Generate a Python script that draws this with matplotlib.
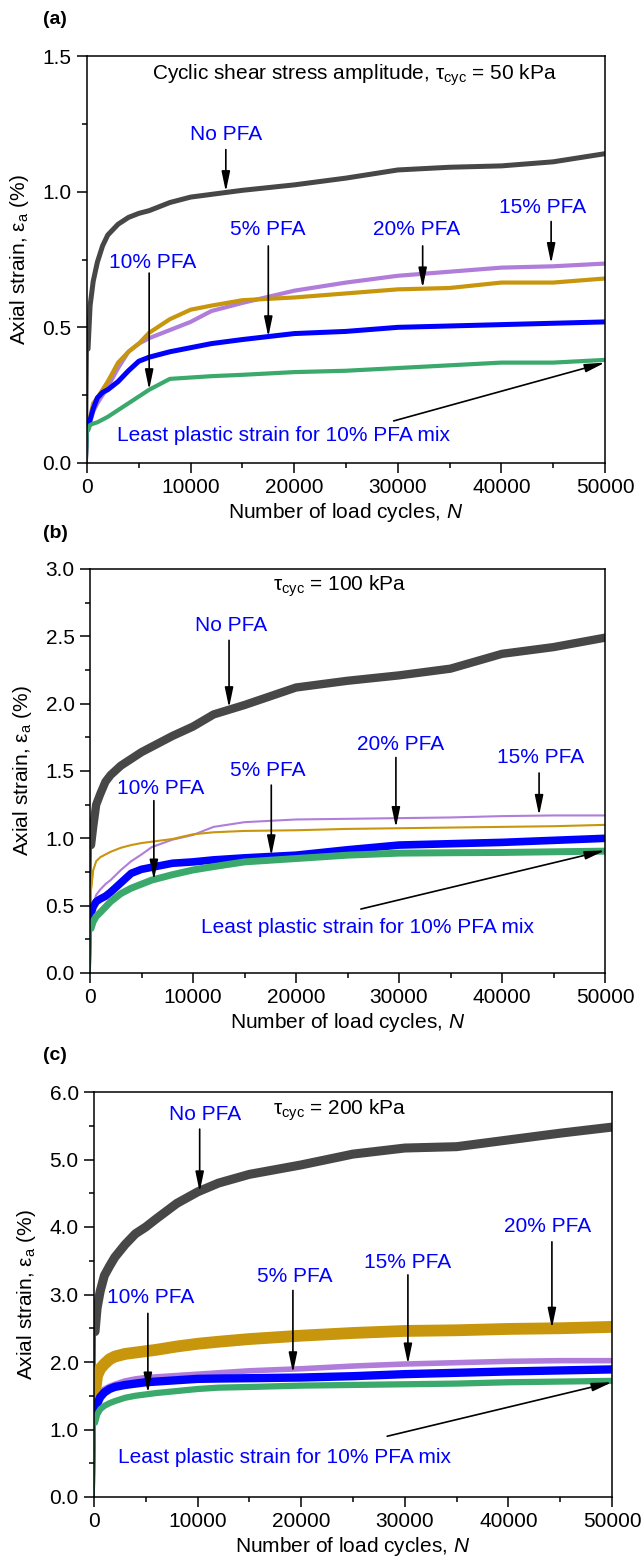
import numpy as np
import matplotlib
matplotlib.use('Agg')
import matplotlib.pyplot as plt
from matplotlib.ticker import MultipleLocator, FormatStrFormatter

plt.rcParams['font.family'] = ['Liberation Sans', 'DejaVu Sans']
plt.rcParams['mathtext.fontset'] = 'custom'
plt.rcParams['mathtext.rm'] = 'Liberation Sans'
plt.rcParams['mathtext.it'] = 'Liberation Sans:italic'
plt.rcParams['mathtext.bf'] = 'Liberation Sans:bold'

# load cycles at which strains were read
N = [0, 100, 300, 600, 1000, 1500, 2000, 3000, 4000, 5000, 6000, 8000,
     10000, 12000, 15000, 20000, 25000, 30000, 35000, 40000, 45000, 50000]

# (a) tau_cyc = 50 kPa, axial strain (%)
a_nopfa = [0, 0.42, 0.58, 0.67, 0.74, 0.80, 0.84, 0.88, 0.905, 0.92, 0.93, 0.96,
           0.98, 0.99, 1.005, 1.025, 1.05, 1.08, 1.09, 1.095, 1.11, 1.14]
a_15 = [0, 0.12, 0.15, 0.19, 0.22, 0.25, 0.28, 0.35, 0.41, 0.44, 0.46, 0.49,
        0.52, 0.56, 0.59, 0.635, 0.665, 0.69, 0.705, 0.72, 0.725, 0.735]
a_20 = [0, 0.13, 0.17, 0.22, 0.24, 0.27, 0.30, 0.37, 0.41, 0.44, 0.48, 0.53,
        0.565, 0.58, 0.60, 0.61, 0.625, 0.64, 0.645, 0.665, 0.665, 0.68]
a_5 = [0, 0.13, 0.16, 0.20, 0.24, 0.26, 0.27, 0.30, 0.34, 0.375, 0.39, 0.41,
       0.425, 0.44, 0.455, 0.477, 0.485, 0.50, 0.505, 0.51, 0.515, 0.52]
a_10 = [0, 0.12, 0.14, 0.145, 0.15, 0.16, 0.17, 0.195, 0.22, 0.245, 0.27, 0.31,
        0.315, 0.32, 0.325, 0.335, 0.34, 0.35, 0.36, 0.37, 0.37, 0.38]

# (b) tau_cyc = 100 kPa
b_nopfa = [0, 0.95, 1.08, 1.25, 1.33, 1.42, 1.47, 1.54, 1.59, 1.64, 1.68, 1.76,
           1.83, 1.92, 1.99, 2.12, 2.17, 2.21, 2.26, 2.37, 2.42, 2.49]
b_15 = [0, 0.42, 0.50, 0.58, 0.62, 0.66, 0.69, 0.765, 0.83, 0.88, 0.935, 0.99,
        1.025, 1.085, 1.12, 1.14, 1.145, 1.15, 1.155, 1.165, 1.17, 1.17]
b_20 = [0, 0.62, 0.76, 0.83, 0.86, 0.88, 0.90, 0.93, 0.95, 0.965, 0.975, 0.995,
        1.03, 1.045, 1.055, 1.06, 1.07, 1.075, 1.08, 1.085, 1.09, 1.10]
b_5 = [0, 0.44, 0.49, 0.53, 0.55, 0.57, 0.60, 0.67, 0.74, 0.77, 0.785, 0.815,
       0.825, 0.84, 0.855, 0.875, 0.915, 0.95, 0.96, 0.97, 0.985, 1.00]
b_10 = [0, 0.33, 0.38, 0.42, 0.45, 0.49, 0.53, 0.59, 0.63, 0.66, 0.69, 0.73,
        0.765, 0.79, 0.825, 0.85, 0.875, 0.89, 0.893, 0.895, 0.90, 0.905]

# (c) tau_cyc = 200 kPa
c_nopfa = [0, 2.45, 2.80, 3.05, 3.28, 3.42, 3.55, 3.74, 3.90, 4.00, 4.12, 4.35,
           4.52, 4.65, 4.78, 4.92, 5.08, 5.17, 5.19, 5.29, 5.39, 5.48]
c_15 = [0, 1.30, 1.47, 1.55, 1.60, 1.64, 1.67, 1.72, 1.75, 1.77, 1.78, 1.80,
        1.82, 1.84, 1.87, 1.90, 1.94, 1.97, 1.99, 2.01, 2.02, 2.02]
c_20 = [0, 1.55, 1.80, 1.90, 1.97, 2.04, 2.08, 2.12, 2.14, 2.16, 2.18, 2.23,
        2.27, 2.30, 2.34, 2.39, 2.43, 2.46, 2.47, 2.49, 2.50, 2.52]
c_5 = [0, 1.22, 1.38, 1.48, 1.55, 1.60, 1.63, 1.66, 1.68, 1.70, 1.71, 1.73,
       1.75, 1.755, 1.76, 1.77, 1.79, 1.82, 1.84, 1.86, 1.875, 1.89]
c_10 = [0, 1.10, 1.22, 1.30, 1.35, 1.39, 1.42, 1.47, 1.50, 1.52, 1.54, 1.57,
        1.60, 1.62, 1.63, 1.65, 1.66, 1.67, 1.68, 1.70, 1.71, 1.72]

mixes = ['No PFA', '15% PFA', '20% PFA', '5% PFA', '10% PFA']
colors = ['#474747', '#b07ddb', '#c8960c', '#0000ff', '#3aa96b']
note = 'Least plastic strain for 10% PFA mix'

W, H = 643, 1566
FS = 15
fig = plt.figure(figsize=(W / 100, H / 100), dpi=100)

# per panel: series, line widths, y-limit, major/minor y step, axes box (px),
# stress label, labels (x, y), arrows (x0, y0, x1, y1), note text/arrow
panels = [
    dict(tag='(a)', data=[a_nopfa, a_15, a_20, a_5, a_10],
         lw=[3.6, 3.0, 3.0, 3.6, 3.0], ymax=1.5, major=0.5, minor=0.25,
         box=(87, 56, 605, 463),
         stress=('Cyclic shear stress amplitude, τ$_{\\rm cyc}$ = 50 kPa', 25800, 1.43),
         labels=[(13400, 1.21), (44000, 0.94), (31800, 0.86), (17400, 0.86), (6300, 0.74)],
         arrows=[(13400, 1.155, 13400, 1.0), (44800, 0.89, 44800, 0.735),
                 (32400, 0.80, 32400, 0.645), (17500, 0.80, 17500, 0.465),
                 (6000, 0.70, 6000, 0.27)],
         note=(19000, 0.10), note_arrow=(29600, 0.155, 50000, 0.37)),
    dict(tag='(b)', data=[b_nopfa, b_15, b_20, b_5, b_10],
         lw=[6.0, 1.5, 1.5, 5.5, 5.0], ymax=3.0, major=0.5, minor=0.25,
         box=(90, 569, 605, 973),
         stress=('τ$_{\\rm cyc}$ = 100 kPa', 24200, 2.87),
         labels=[(13700, 2.58), (43700, 1.60), (30200, 1.70), (17300, 1.50), (6900, 1.37)],
         arrows=[(13500, 2.47, 13500, 1.97), (43600, 1.485, 43600, 1.17),
                 (29700, 1.60, 29700, 1.08), (17600, 1.395, 17600, 0.87),
                 (6200, 1.28, 6200, 0.69)],
         note=(26900, 0.34), note_arrow=(26300, 0.475, 50000, 0.91)),
    dict(tag='(c)', data=[c_nopfa, c_15, c_20, c_5, c_10],
         lw=[6.5, 4.0, 8.5, 6.0, 4.5], ymax=6.0, major=1.0, minor=0.5,
         box=(94, 1092, 612, 1497),
         stress=('τ$_{\\rm cyc}$ = 200 kPa', 23700, 5.73),
         labels=[(10700, 5.66), (30300, 3.48), (43800, 4.00), (19400, 3.26), (5500, 2.95)],
         arrows=[(10200, 5.45, 10200, 4.52), (30300, 3.29, 30300, 1.97),
                 (44200, 3.78, 44200, 2.50), (19200, 3.06, 19200, 1.84),
                 (5200, 2.72, 5200, 1.54)],
         note=(18400, 0.58), note_arrow=(28300, 0.90, 50000, 1.70)),
]

arrow_kw = dict(arrowstyle='-|>,head_length=1.2,head_width=0.25', color='k',
                lw=1.2, mutation_scale=10, shrinkA=0, shrinkB=0)

for p in panels:
    x0, y0, x1, y1 = p['box']
    ax = fig.add_axes([x0 / W, 1 - y1 / H, (x1 - x0) / W, (y1 - y0) / H])
    for vals, c, lw in zip(p['data'], colors, p['lw']):
        # first loading cycles: thin near-vertical rise, then the thick band
        ax.plot(N[:3], vals[:3], color=c, lw=1.3)
        ax.plot(N[1:], vals[1:], color=c, lw=lw, solid_joinstyle='round',
                solid_capstyle='round')

    ax.set_xlim(0, 50000)
    ax.set_ylim(0, p['ymax'])
    ax.xaxis.set_major_locator(MultipleLocator(10000))
    ax.xaxis.set_minor_locator(MultipleLocator(5000))
    ax.yaxis.set_major_locator(MultipleLocator(p['major']))
    ax.yaxis.set_minor_locator(MultipleLocator(p['minor']))
    ax.yaxis.set_major_formatter(FormatStrFormatter('%.1f'))
    ax.tick_params(which='both', direction='out', top=False, right=False,
                   width=1.1, labelsize=FS, pad=4)
    ax.tick_params(which='major', length=7)
    ax.tick_params(which='minor', length=3.5)
    for s in ax.spines.values():
        s.set_linewidth(1.1)

    ax.set_xlabel('Number of load cycles, $N$', fontsize=FS, labelpad=3)
    ax.set_ylabel('Axial strain, ε$_{\\rm a}$ (%)', fontsize=FS, labelpad=8)

    txt, sx, sy = p['stress']
    ax.text(sx, sy, txt, fontsize=FS, ha='center', va='center')
    for name, (tx, ty) in zip(mixes, p['labels']):
        ax.text(tx, ty, name, color='#0000ff', fontsize=FS, ha='center', va='center')
    for ax0, ay0, ax1, ay1 in p['arrows']:
        ax.annotate('', xy=(ax1, ay1), xytext=(ax0, ay0), arrowprops=arrow_kw)
    ax.text(p['note'][0], p['note'][1], note, color='#0000ff', fontsize=FS,
            ha='center', va='center')
    nx0, ny0, nx1, ny1 = p['note_arrow']
    ax.annotate('', xy=(nx1, ny1), xytext=(nx0, ny0), arrowprops=arrow_kw)

    fig.text(43 / W, 1 - (y0 - 36) / H, p['tag'], fontsize=14, fontweight='bold',
             ha='left', va='center')

fig.savefig('out.png', dpi=100)
